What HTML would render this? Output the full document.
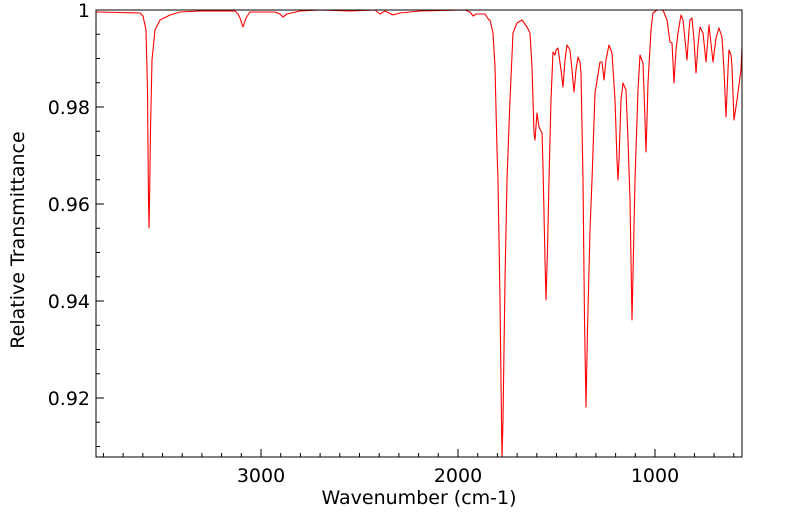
<!DOCTYPE html>
<html><head><meta charset="utf-8"><style>body{margin:0;background:#fff}svg{display:block}</style></head><body>
<svg width="799" height="516" xmlns="http://www.w3.org/2000/svg" font-family="DejaVu Sans, sans-serif">
<rect width="799" height="516" fill="#fff"/>
<g stroke="#000" stroke-width="1">
<line x1="103.4" y1="457" x2="103.4" y2="453"/><line x1="123.1" y1="457" x2="123.1" y2="453"/><line x1="142.8" y1="457" x2="142.8" y2="453"/><line x1="162.5" y1="457" x2="162.5" y2="453"/><line x1="182.2" y1="457" x2="182.2" y2="453"/><line x1="201.9" y1="457" x2="201.9" y2="453"/><line x1="221.6" y1="457" x2="221.6" y2="453"/><line x1="241.3" y1="457" x2="241.3" y2="453"/><line x1="261" y1="457" x2="261" y2="449"/><line x1="280.7" y1="457" x2="280.7" y2="453"/><line x1="300.4" y1="457" x2="300.4" y2="453"/><line x1="320.1" y1="457" x2="320.1" y2="453"/><line x1="339.8" y1="457" x2="339.8" y2="453"/><line x1="359.5" y1="457" x2="359.5" y2="453"/><line x1="379.2" y1="457" x2="379.2" y2="453"/><line x1="398.9" y1="457" x2="398.9" y2="453"/><line x1="418.6" y1="457" x2="418.6" y2="453"/><line x1="438.3" y1="457" x2="438.3" y2="453"/><line x1="458" y1="457" x2="458" y2="449"/><line x1="477.7" y1="457" x2="477.7" y2="453"/><line x1="497.4" y1="457" x2="497.4" y2="453"/><line x1="517.1" y1="457" x2="517.1" y2="453"/><line x1="536.8" y1="457" x2="536.8" y2="453"/><line x1="556.5" y1="457" x2="556.5" y2="453"/><line x1="576.2" y1="457" x2="576.2" y2="453"/><line x1="595.9" y1="457" x2="595.9" y2="453"/><line x1="615.6" y1="457" x2="615.6" y2="453"/><line x1="635.3" y1="457" x2="635.3" y2="453"/><line x1="655" y1="457" x2="655" y2="449"/><line x1="674.7" y1="457" x2="674.7" y2="453"/><line x1="694.4" y1="457" x2="694.4" y2="453"/><line x1="714.1" y1="457" x2="714.1" y2="453"/><line x1="733.8" y1="457" x2="733.8" y2="453"/>
<line x1="96" y1="10" x2="104" y2="10"/><line x1="96" y1="34.25" x2="100" y2="34.25"/><line x1="96" y1="58.5" x2="100" y2="58.5"/><line x1="96" y1="82.75" x2="100" y2="82.75"/><line x1="96" y1="107" x2="104" y2="107"/><line x1="96" y1="131.25" x2="100" y2="131.25"/><line x1="96" y1="155.5" x2="100" y2="155.5"/><line x1="96" y1="179.75" x2="100" y2="179.75"/><line x1="96" y1="204" x2="104" y2="204"/><line x1="96" y1="228.25" x2="100" y2="228.25"/><line x1="96" y1="252.5" x2="100" y2="252.5"/><line x1="96" y1="276.75" x2="100" y2="276.75"/><line x1="96" y1="301" x2="104" y2="301"/><line x1="96" y1="325.25" x2="100" y2="325.25"/><line x1="96" y1="349.5" x2="100" y2="349.5"/><line x1="96" y1="373.75" x2="100" y2="373.75"/><line x1="96" y1="398" x2="104" y2="398"/><line x1="96" y1="422.25" x2="100" y2="422.25"/><line x1="96" y1="446.5" x2="100" y2="446.5"/>
</g>
<polyline fill="none" stroke="#ff0000" stroke-width="1.1" stroke-linejoin="round" points="96,12 120,12.5 140,13 143,16 146,30 147.5,90 148.5,200 149,228 149.7,190 150.5,130 152,60 155,30 160,20 170,15 180,12 200,11 235,11 238,14 240,18 243,27 246,18 250,12 275,12 280,14 283,17 287,14 300,11 320,10 350,11 375,10 380,14 385,11 393,15 400,13 420,11 465,10 470,12 473,16 476,14 485,14 489,20 490,20 493,33 495,67 497,150 498,180 500,300 501.5,420 502,457 503,420 505,280 507,180 510,100 513,33 517,23 522,20 527,27 530,33 532,67 534,133 535,140 537,113 539,127 542,133 543,167 545,260 546,300 547.5,250 549,180 551,100 553,52 555,55 556,50 558,48 561,70 563,87 565,60 567,45 570,50 572,70 574,92 576,70 578,57 580,62 581,73 583,180 584.5,320 586,407 587.5,330 590,230 592,180 595,93 600,62 602,62 604,80 606,60 609,45 612,53 615,100 617,160 618,180 619,160 621,100 623,83 626,90 628,140 630,200 632,320 633.5,250 635,180 638,90 640,55 643,63 645,120 646,152 647,120 648,83 651,30 653,13 657,10 663,10 667,20 670,42 672,43 674,83 676,50 678,33 681,15 683,20 685,40 687,60 689,30 690,20 692,18 694,40 696,73 698,45 700,27 703,33 706,62 709,25 713,62 716,38 719,28 722,37 724,70 726,117 728,70 729,50 731,55 732,67 734,120 737,100 739,85 741,70 742,47"/>
<rect x="96" y="10" width="646" height="447" fill="none" stroke="#000" stroke-width="1"/>
<g font-size="19" fill="#000" text-anchor="end">
<text x="90" y="17">1</text>
<text x="90" y="114">0.98</text>
<text x="90" y="211">0.96</text>
<text x="90" y="308">0.94</text>
<text x="90" y="405">0.92</text>
</g>
<g font-size="19" fill="#000" text-anchor="middle">
<text x="261" y="482">3000</text>
<text x="458" y="482">2000</text>
<text x="655" y="482">1000</text>
<text x="419" y="504">Wavenumber (cm-1)</text>
<text transform="translate(24,240) rotate(-90)">Relative Transmittance</text>
</g>
</svg>
</body></html>
